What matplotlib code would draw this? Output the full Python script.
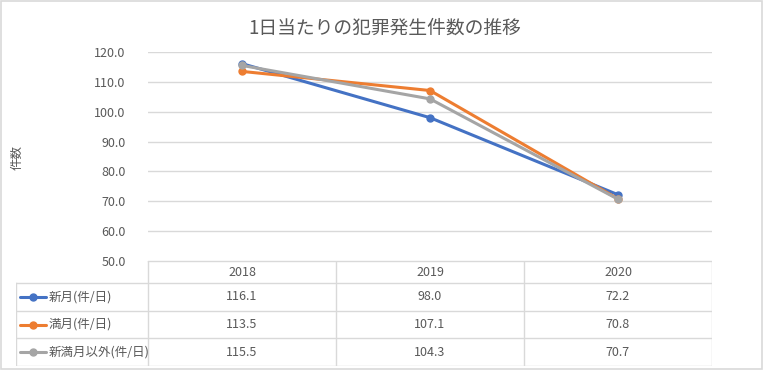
import matplotlib
matplotlib.use("Agg")
import matplotlib.pyplot as plt
from matplotlib.patches import Rectangle

plt.rcParams['font.family'] = ['Noto Sans CJK JP', 'DejaVu Sans']

title = "1日当たりの犯罪発生件数の推移"
ylabel = "件数"
years = ["2018", "2019", "2020"]
series_names = ["新月(件/日)", "満月(件/日)", "新満月以外(件/日)"]
new_moon = [116.1, 98.0, 72.2]
full_moon = [113.5, 107.1, 70.8]
other_days = [115.5, 104.3, 70.7]
yticks = [50, 60, 70, 80, 90, 100, 110, 120]

series = [new_moon, full_moon, other_days]
colors = ["#4472C4", "#ED7D31", "#A5A5A5"]
text_c = "#595959"
grid_c = "#D9D9D9"

W, H = 768, 370
fig = plt.figure(figsize=(W / 100, H / 100), dpi=100)

# outer chart border
fig.add_artist(Rectangle((0.5 / W, 1 - 369 / H), 761 / W, 368 / H,
                         transform=fig.transFigure, fill=False,
                         edgecolor=grid_c, linewidth=1.2))

# plot area in pixels
left, right, top, bottom = 148, 712, 52, 261
ax = fig.add_axes([left / W, 1 - bottom / H, (right - left) / W, (bottom - top) / H])
x = list(range(len(years)))
for vals, c in zip(series, colors):
    ax.plot(x, vals, color=c, linewidth=2.2, marker="o", markersize=5,
            solid_capstyle="round")
ax.set_xlim(-0.5, len(years) - 0.5)
ax.set_ylim(50, 120)
ax.set_yticks(yticks)
ax.set_yticklabels([f"{v:.1f}" for v in yticks], color=text_c, fontsize=9)
ax.set_xticks([])
ax.tick_params(axis="y", length=0, pad=16)
ax.grid(axis="y", color=grid_c, linewidth=1)
ax.set_axisbelow(True)
for s in ax.spines.values():
    s.set_visible(False)

fig.text(17 / W, 1 - 157 / H, ylabel, rotation=90, ha="center", va="center",
         color=text_c, fontsize=9)
fig.text(385 / W, 1 - 28 / H, title, ha="center", va="center",
         color=text_c, fontsize=13.5)

# data table
t_left, t_bottom = 16, 366
unit = (right - left) / len(years)
tx0 = -0.5 - (left - t_left) / unit
tax = fig.add_axes([t_left / W, 1 - t_bottom / H, (right - t_left) / W, (t_bottom - bottom) / H])
tax.set_xlim(tx0, len(years) - 0.5)
row_edges = [0, 22, 49.7, 77.3, 105]
tax.set_ylim(row_edges[-1], row_edges[0])
tax.axis("off")

lw = 1
tax.plot([-0.5, len(years) - 0.5], [0, 0], color=grid_c, lw=lw)
for yy in row_edges[1:]:
    tax.plot([tx0, len(years) - 0.5], [yy, yy], color=grid_c, lw=lw)
for xx in [-0.5 + i for i in range(len(years) + 1)]:
    tax.plot([xx, xx], [0, row_edges[-1]], color=grid_c, lw=lw)
tax.plot([tx0, tx0], [row_edges[1], row_edges[-1]], color=grid_c, lw=lw)

for i, yr in enumerate(years):
    tax.text(i, (row_edges[0] + row_edges[1]) / 2, yr, ha="center", va="center",
             color=text_c, fontsize=9)

px = 1 / unit
for r, (name, vals, c) in enumerate(zip(series_names, series, colors)):
    yc = (row_edges[r + 1] + row_edges[r + 2]) / 2
    x1 = tx0 + 4 * px
    x2 = tx0 + 30 * px
    tax.plot([x1, x2], [yc, yc], color=c, lw=2.2, solid_capstyle="round")
    tax.plot([(x1 + x2) / 2], [yc], color=c, marker="o", markersize=5)
    tax.text(tx0 + 33 * px, yc, name, ha="left", va="center", color=text_c, fontsize=9)
    for i, v in enumerate(vals):
        tax.text(i, yc, f"{v:.1f}", ha="center", va="center", color=text_c, fontsize=9)

fig.savefig("out.png", dpi=100)
